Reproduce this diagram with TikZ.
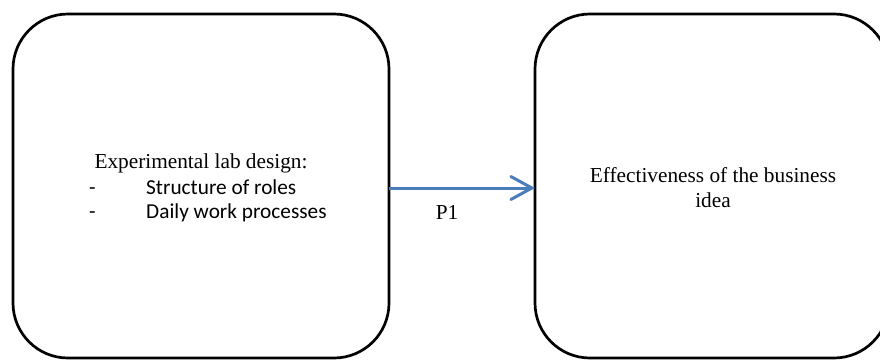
\documentclass[tikz,border=0pt]{standalone}
\usepackage{fontspec}
\setmainfont{Liberation Serif}
\newfontfamily\calib{Carlito}
\usetikzlibrary{arrows.meta}
\definecolor{arrowblue}{HTML}{4A7EBB}
\tikzset{
  box/.style={draw=black, line width=2.7pt, rounded corners=55pt, inner sep=0pt, outer sep=0pt},
  serif/.style={font=\fontsize{21.3}{25}\selectfont, inner sep=0pt, anchor=base},
  calibri/.style={font=\calib\fontsize{21.3}{25}\selectfont, inner sep=0pt, anchor=base west},
  link/.style={draw=arrowblue, line width=3pt, -{Straight Barb[length=21pt,width=23pt,line cap=round]}}
}
\begin{document}
\begin{tikzpicture}[x=1pt,y=-1pt]
\useasboundingbox (0,0) rectangle (880,360);
\clip (0,0) rectangle (880,360);
\node[box, minimum width=376pt, minimum height=344pt] (L) at (201,186) {};
\node[box, minimum width=354pt, minimum height=344pt] (R) at (712,186) {};
\draw[link] ([yshift=-2pt]L.east) -- ([yshift=-2pt]R.west);
\node[serif] (t1) at (201,168) {Experimental lab design:};
\node[calibri] (d1) at (89,194) {-};
\node[calibri] (d2) at (89,218) {-};
\node[calibri] (s1) at (146,194) {Structure of roles};
\node[calibri] (s2) at (146,218) {Daily work processes};
\node[serif] (p1) at (447,219) {P1};
\node[serif] (e1) at (713,182) {Effectiveness of the business};
\node[serif] (e2) at (713,207) {idea};
\end{tikzpicture}
\end{document}
